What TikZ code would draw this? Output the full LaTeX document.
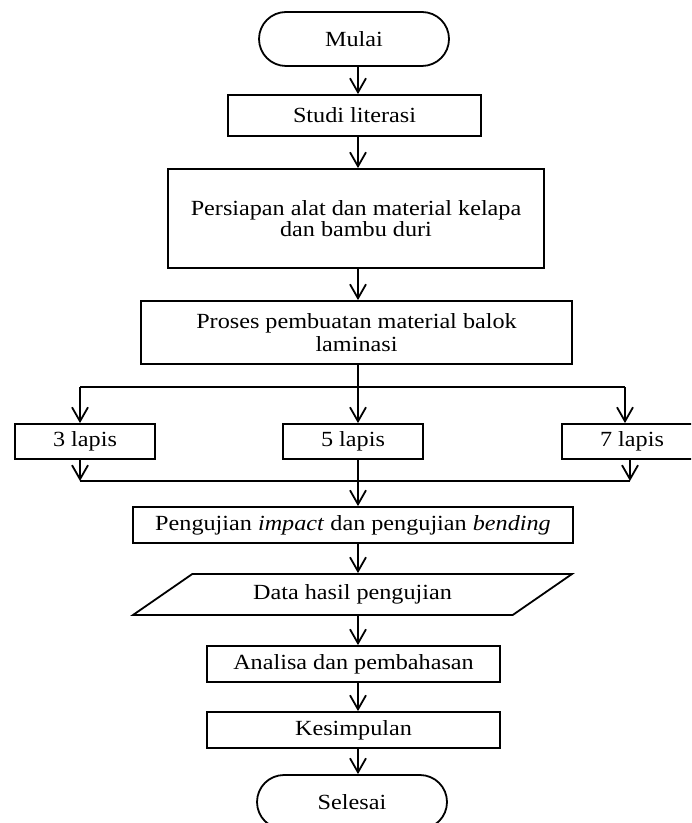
\documentclass[tikz,border=0pt]{standalone}
\usepackage{fontspec}
\setmainfont{Liberation Serif}[FakeStretch=1.12]
\usetikzlibrary{arrows.meta,positioning,shapes.geometric,shapes.misc}
\newcommand{\tightlines}{\lineskiplimit=-10pt\relax}

\begin{document}
\begin{tikzpicture}[
		  x=0.5pt, y=-0.5pt, line width=0.9pt, >={Straight Barb[length=7pt,width=8pt]},
		  box/.style={draw, align=center, inner sep=2pt, font=\fontsize{10.8}{13}\selectfont},
		  process/.style={box, rectangle}, term/.style={box, rounded rectangle, minimum width=99pt, minimum height=27pt},
		  io/.style={box, trapezium, trapezium left angle=25, trapezium right angle=155, trapezium stretches body}
		]
		\clip (0,0) rectangle (691,823);
		\node[term] (fc_mulai) at (354,39) {Mulai};
		\node[process, minimum width=126.5pt, minimum height=20.5pt] (fc_studi) at (354.5,115.5) {Studi literasi};
		\node[process, minimum width=188pt, minimum height=49.5pt, font={\fontsize{10.8}{10.5}\selectfont\tightlines}] (fc_persiapan) at (356,218.5) {Persiapan alat dan material kelapa\\dan bambu duri};
		\node[process, minimum width=215.5pt, minimum height=31.5pt, font={\fontsize{10.8}{11.5}\selectfont\tightlines}] (fc_proses) at (356.5,332.5) {Proses pembuatan material balok\\laminasi};
		\node[process, minimum width=70pt, minimum height=17.5pt] (fc_lap3) at (85,441.5) {3 lapis};
		\node[process, minimum width=70pt, minimum height=17.5pt] (fc_lap5) at (353,441.5) {5 lapis};
		\node[process, minimum width=70pt, minimum height=17.5pt] (fc_lap7) at (632,441.5) {7 lapis};
		\node[process, minimum width=220pt, minimum height=18pt] (fc_uji) at (353,525) {Pengujian \textit{impact} dan pengujian \textit{bending}};
		\node[io, minimum width=219.5pt, minimum height=20.5pt] (fc_data) at (352.5,594.5) {Data hasil pengujian};
		\node[process, minimum width=146.5pt, minimum height=18pt] (fc_analisa) at (353.5,664) {Analisa dan pembahasan};
		\node[process, minimum width=146.5pt, minimum height=18pt] (fc_kesimpulan) at (353.5,730) {Kesimpulan};
		\node[term] (fc_selesai) at (352,802) {Selesai};
		
		\coordinate (fc_spine) at (358,0);
		\coordinate (fc_splitL) at (80,387);
		\coordinate (fc_splitR) at (625,387);
		\coordinate (fc_joinL) at (80,481);
		\coordinate (fc_joinR) at (630,481);
		
		\draw[->] (fc_mulai.south -| fc_spine) -- (fc_studi.north -| fc_spine);
		\draw[->] (fc_studi.south -| fc_spine) -- (fc_persiapan.north -| fc_spine);
		\draw[->] (fc_persiapan.south -| fc_spine) -- (fc_proses.north -| fc_spine);
		\draw[->] (fc_proses.south -| fc_spine) -- (fc_lap5.north -| fc_spine);
		\draw (fc_splitL) -- (fc_splitR);
		\draw[->] (fc_splitL) -- (fc_lap3.north -| fc_splitL);
		\draw[->] (fc_splitR) -- (fc_lap7.north -| fc_splitR);
		\draw (fc_joinL) -- (fc_joinR);
		\draw[->] (fc_lap3.south -| fc_joinL) -- (fc_joinL);
		\draw[->] (fc_lap7.south -| fc_joinR) -- (fc_joinR);
		\draw[->] (fc_lap5.south -| fc_spine) -- (fc_uji.north -| fc_spine);
		\draw[->] (fc_uji.south -| fc_spine) -- (fc_data.north -| fc_spine);
		\draw[->] (fc_data.south -| fc_spine) -- (fc_analisa.north -| fc_spine);
		\draw[->] (fc_analisa.south -| fc_spine) -- (fc_kesimpulan.north -| fc_spine);
		\draw[->] (fc_kesimpulan.south -| fc_spine) -- (fc_selesai.north -| fc_spine);
		\end{tikzpicture}
\end{document}
